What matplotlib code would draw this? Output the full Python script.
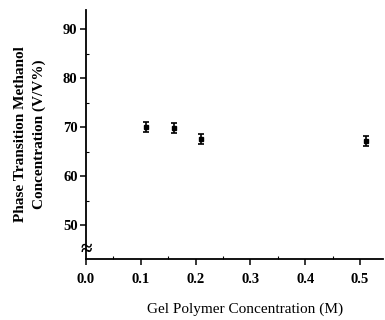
import matplotlib
matplotlib.use("Agg")
import matplotlib.pyplot as plt
from matplotlib.ticker import MultipleLocator
import matplotlib.transforms as mtransforms

# data
gel_conc = [0.11, 0.16, 0.21, 0.51]
methanol_conc = [70.0, 69.8, 67.6, 67.2]
errors = [1.0, 1.0, 1.0, 1.0]

x_ticks = [0.0, 0.1, 0.2, 0.3, 0.4, 0.5]
y_ticks = [50, 60, 70, 80, 90]

plt.rcParams['font.family'] = ['Liberation Serif', 'DejaVu Serif']

fig = plt.figure(figsize=(3.85, 3.2), dpi=100)
ax = fig.add_axes([0.223, 0.191, 0.772, 0.778])

ax.errorbar(gel_conc, methanol_conc, yerr=errors, fmt='s', color='black',
            markersize=3.5, capsize=2.5, elinewidth=1.2, capthick=1.2)

ax.set_xlim(0.0, 0.542)
ax.set_ylim(43.1, 94)
ax.set_xticks(x_ticks)
ax.set_xticklabels(["%.1f" % t for t in x_ticks])
ax.set_yticks(y_ticks)
ax.xaxis.set_minor_locator(MultipleLocator(0.05))
ax.yaxis.set_minor_locator(MultipleLocator(5))

for side in ["top", "right"]:
    ax.spines[side].set_visible(False)
ax.spines["left"].set_linewidth(1.3)
ax.spines["bottom"].set_linewidth(1.3)

ax.tick_params(axis='both', which='major', length=4, width=1.1,
               labelsize=10.5, direction='out')
ax.tick_params(axis='both', which='minor', length=2, width=0.8,
               direction='in')
ax.tick_params(axis='x', pad=6)
ax.tick_params(axis='y', pad=2)
for lab in ax.get_xticklabels() + ax.get_yticklabels():
    lab.set_fontweight('bold')

# axis break mark
trans = mtransforms.blended_transform_factory(ax.transAxes, ax.transData)
ax.text(0.0, 45.0, u"\u2248", transform=trans, ha='center', va='center',
        fontsize=15, fontweight='bold', clip_on=False)

ax.set_xlabel("Gel Polymer Concentration (M)", fontsize=11)
ax.xaxis.set_label_coords(0.535, -0.175)
ax.set_ylabel("Phase Transition Methanol\nConcentration (V/V%)",
              fontsize=11, fontweight='bold', labelpad=12, linespacing=1.55)

fig.savefig("out.png", dpi=100)
